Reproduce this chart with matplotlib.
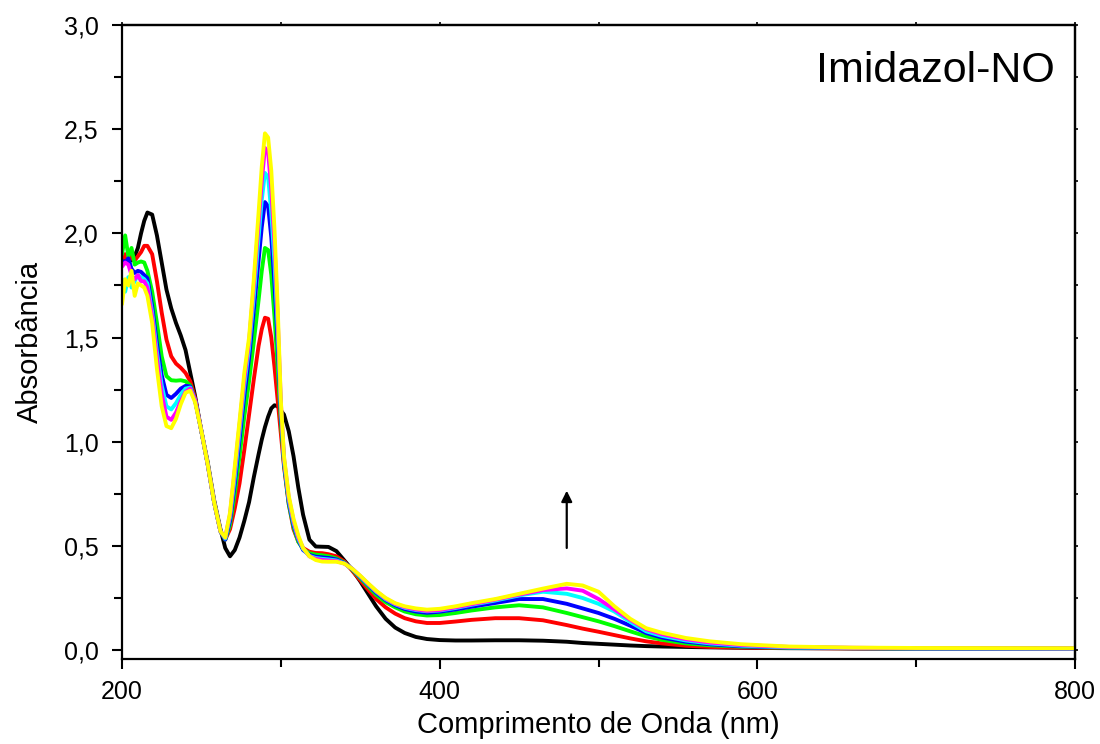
import matplotlib
matplotlib.use("Agg")
import matplotlib.pyplot as plt
from matplotlib.ticker import MultipleLocator, FuncFormatter, NullFormatter

plt.rcParams['font.family'] = ['Liberation Sans', 'DejaVu Sans']

wavelength = [200, 202, 204, 206, 208, 210, 212, 214, 216,
              219, 222, 225, 228, 231, 234, 237, 240, 243, 246,
              250, 254, 258, 262,
              265, 268, 271, 274, 277, 280, 283, 286,
              288, 290, 292, 294, 296, 298, 300, 302,
              305, 308, 311, 314, 318, 322, 326, 330,
              335, 340, 345, 350, 355, 360, 366, 372, 378,
              385, 392, 400, 410, 420, 435, 450, 465, 480,
              490, 500, 510, 520, 530, 540,
              555, 570, 590, 620, 660, 700, 800]

abs_black = [1.90, 1.88, 1.90, 1.87, 1.89, 1.93, 2.00, 2.06, 2.10,
             2.09, 1.99, 1.86, 1.73, 1.64, 1.57, 1.51, 1.44, 1.33, 1.22,
             1.05, 0.90, 0.72, 0.58,
             0.49, 0.45, 0.48, 0.54, 0.62, 0.71, 0.83, 0.94,
             1.01, 1.07, 1.12, 1.16, 1.175, 1.17, 1.15, 1.13,
             1.05, 0.93, 0.78, 0.65, 0.53, 0.497, 0.496, 0.495,
             0.475, 0.43, 0.385, 0.33, 0.27, 0.21, 0.15, 0.108, 0.082,
             0.063, 0.053, 0.048, 0.046, 0.046, 0.047, 0.047, 0.045, 0.040,
             0.034, 0.030, 0.026, 0.022, 0.019, 0.017,
             0.015, 0.013, 0.011, 0.009, 0.008, 0.007, 0.006]

abs_red = [1.87, 1.90, 1.86, 1.89, 1.87, 1.89, 1.91, 1.94, 1.94,
           1.90, 1.77, 1.62, 1.49, 1.41, 1.375, 1.355, 1.33, 1.29, 1.21,
           1.05, 0.89, 0.71, 0.57,
           0.53, 0.58, 0.68, 0.80, 0.96, 1.13, 1.30, 1.46,
           1.54, 1.595, 1.59, 1.50, 1.36, 1.20, 1.04, 0.88,
           0.70, 0.58, 0.52, 0.49, 0.472, 0.466, 0.465, 0.46,
           0.45, 0.425, 0.38, 0.335, 0.29, 0.245, 0.205, 0.175, 0.153,
           0.138, 0.13, 0.13, 0.137, 0.145, 0.153, 0.153, 0.143, 0.12,
           0.103, 0.088, 0.072, 0.056, 0.042, 0.032,
           0.021, 0.015, 0.012, 0.010, 0.008, 0.007, 0.006]

abs_green = [1.90, 1.99, 1.89, 1.93, 1.85, 1.86, 1.865, 1.86, 1.82,
             1.72, 1.57, 1.41, 1.315, 1.295, 1.293, 1.295, 1.29, 1.27, 1.20,
             1.05, 0.89, 0.71, 0.57,
             0.53, 0.60, 0.75, 0.93, 1.12, 1.29, 1.48, 1.68,
             1.82, 1.93, 1.92, 1.80, 1.60, 1.36, 1.10, 0.89,
             0.70, 0.59, 0.52, 0.485, 0.465, 0.458, 0.455, 0.45,
             0.44, 0.42, 0.385, 0.345, 0.305, 0.265, 0.23, 0.205, 0.185,
             0.172, 0.166, 0.168, 0.178, 0.19, 0.205, 0.215, 0.205, 0.178,
             0.158, 0.138, 0.115, 0.09, 0.066, 0.049,
             0.032, 0.023, 0.016, 0.011, 0.009, 0.008, 0.007]

abs_blue = [1.87, 1.86, 1.88, 1.83, 1.81, 1.82, 1.815, 1.80, 1.785,
            1.65, 1.47, 1.32, 1.225, 1.21, 1.23, 1.255, 1.268, 1.265, 1.20,
            1.05, 0.89, 0.71, 0.57,
            0.53, 0.62, 0.80, 1.01, 1.22, 1.40, 1.63, 1.87,
            2.03, 2.15, 2.13, 1.98, 1.76, 1.48, 1.14, 0.90,
            0.71, 0.60, 0.53, 0.48, 0.457, 0.448, 0.445, 0.442,
            0.435, 0.418, 0.388, 0.35, 0.312, 0.275, 0.24, 0.215, 0.197,
            0.185, 0.179, 0.184, 0.195, 0.208, 0.226, 0.245, 0.245, 0.222,
            0.20, 0.178, 0.15, 0.117, 0.082, 0.06,
            0.04, 0.028, 0.018, 0.012, 0.009, 0.008, 0.007]

abs_cyan = [1.78, 1.72, 1.79, 1.74, 1.77, 1.80, 1.79, 1.78, 1.76,
            1.62, 1.43, 1.27, 1.17, 1.155, 1.185, 1.225, 1.255, 1.26, 1.20,
            1.05, 0.89, 0.71, 0.57,
            0.535, 0.64, 0.83, 1.05, 1.27, 1.45, 1.70, 1.98,
            2.16, 2.29, 2.27, 2.10, 1.86, 1.55, 1.17, 0.91,
            0.72, 0.61, 0.535, 0.485, 0.452, 0.442, 0.438, 0.435,
            0.43, 0.416, 0.39, 0.353, 0.315, 0.28, 0.244, 0.22, 0.203,
            0.192, 0.186, 0.19, 0.202, 0.217, 0.238, 0.262, 0.28, 0.27,
            0.25, 0.222, 0.185, 0.135, 0.09, 0.068,
            0.046, 0.032, 0.021, 0.013, 0.010, 0.008, 0.007]

abs_magenta = [1.84, 1.86, 1.85, 1.80, 1.78, 1.80, 1.77, 1.77, 1.74,
               1.60, 1.40, 1.23, 1.12, 1.105, 1.14, 1.195, 1.24, 1.255, 1.20,
               1.05, 0.89, 0.71, 0.57,
               0.54, 0.65, 0.86, 1.08, 1.30, 1.48, 1.75, 2.05,
               2.25, 2.41, 2.39, 2.21, 1.95, 1.60, 1.19, 0.92,
               0.73, 0.62, 0.54, 0.49, 0.45, 0.438, 0.433, 0.43,
               0.427, 0.415, 0.39, 0.355, 0.318, 0.283, 0.247, 0.222, 0.206,
               0.195, 0.188, 0.192, 0.205, 0.22, 0.242, 0.266, 0.288, 0.296,
               0.285, 0.245, 0.195, 0.145, 0.10, 0.076,
               0.052, 0.036, 0.024, 0.015, 0.011, 0.009, 0.008]

abs_yellow = [1.66, 1.78, 1.75, 1.82, 1.70, 1.76, 1.75, 1.74, 1.70,
              1.57, 1.35, 1.17, 1.075, 1.065, 1.11, 1.18, 1.235, 1.245, 1.19,
              1.05, 0.89, 0.71, 0.57,
              0.54, 0.66, 0.88, 1.10, 1.33, 1.50, 1.78, 2.10,
              2.32, 2.48, 2.46, 2.30, 2.02, 1.65, 1.20, 0.93,
              0.74, 0.63, 0.55, 0.49, 0.45, 0.432, 0.425, 0.424,
              0.424, 0.415, 0.39, 0.357, 0.32, 0.285, 0.25, 0.225, 0.21,
              0.20, 0.194, 0.198, 0.21, 0.225, 0.245, 0.27, 0.295, 0.318,
              0.31, 0.28, 0.21, 0.15, 0.105, 0.083,
              0.058, 0.042, 0.028, 0.017, 0.012, 0.010, 0.009]

series = [abs_black, abs_red, abs_green, abs_blue, abs_cyan, abs_magenta, abs_yellow]
colors = ['#000000', '#ff0000', '#00ff00', '#0000ff', '#00ffff', '#ff00ff', '#ffff00']

fig = plt.figure(figsize=(11, 7.44), dpi=100)
ax = fig.add_axes([0.1109, 0.1142, 0.8664, 0.8522])

for vals, c in zip(series, colors):
    ax.plot(wavelength, vals, color=c, lw=2.8, solid_joinstyle='round', solid_capstyle='round')

ax.set_xlim(200, 800)
ax.set_ylim(-0.043, 3.0)

for s in ax.spines.values():
    s.set_linewidth(1.6)

ax.xaxis.set_major_locator(MultipleLocator(200))
ax.xaxis.set_minor_locator(MultipleLocator(100))
ax.yaxis.set_major_locator(MultipleLocator(0.5))
ax.yaxis.set_minor_locator(MultipleLocator(0.25))
ax.yaxis.set_major_formatter(FuncFormatter(lambda v, p: f"{v:.1f}".replace('.', ',')))

ax.tick_params(which='major', direction='out', length=7, width=1.5, labelsize=18)
ax.tick_params(which='minor', direction='out', length=6, width=1.5)
ax.tick_params(axis='x', which='major', pad=8)
ax.tick_params(axis='y', which='major', pad=10)

# tiny ticks on top and right
axt = ax.secondary_xaxis('top')
axt.xaxis.set_major_locator(MultipleLocator(100))
axt.xaxis.set_major_formatter(NullFormatter())
axt.tick_params(direction='out', length=2, width=1.2)
axt.spines['top'].set_linewidth(1.6)
axr = ax.secondary_yaxis('right')
axr.yaxis.set_major_locator(MultipleLocator(0.25))
axr.yaxis.set_major_formatter(NullFormatter())
axr.tick_params(direction='out', length=2, width=1.2)
axr.spines['right'].set_linewidth(1.6)

ax.set_xlabel('Comprimento de Onda (nm)', fontsize=21, labelpad=5)
ax.set_ylabel('Absorbância', fontsize=21, labelpad=14)

ax.text(787, 2.78, 'Imidazol-NO', fontsize=31, ha='right', va='center')

ax.annotate('', xy=(480, 0.765), xytext=(480, 0.49),
            arrowprops=dict(arrowstyle='-|>', color='black', lw=1.6,
                            mutation_scale=16, shrinkA=0, shrinkB=0))

fig.savefig('out.png', dpi=100)
